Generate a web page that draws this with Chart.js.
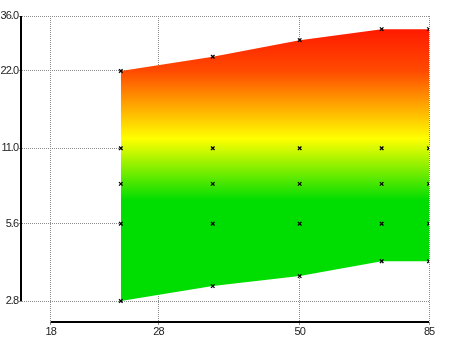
<!DOCTYPE html>
<html>
<head>
<meta charset="utf-8">
<script src="https://cdn.jsdelivr.net/npm/chart.js@4"></script>
<style>
  html, body { margin: 0; padding: 0; background: #fff; }
  #wrap { width: 450px; height: 337px; }
</style>
</head>
<body>
<div id="wrap"><canvas id="band"></canvas></div>
<script>
// data
const xValues = [24, 35, 50, 70, 85];
const upper = [22, 25, 29, 32, 32];
const lower = [2.8, 3.2, 3.5, 4.0, 4.0];
const row11 = [11, 11, 11, 11, 11];
const row8 = [8, 8, 8, 8, 8];
const row56 = [5.6, 5.6, 5.6, 5.6, 5.6];
const xTicks = [18, 28, 50, 85];
const yTicks = [2.8, 5.6, 11, 22, 36];

function pts(ys) {
  return xValues.map(function(x, i) { return { x: x, y: ys[i] }; });
}

// green -> yellow -> red, anchored on y values
const colorStops = [
  [6.9, '#00dd00'],
  [12, '#ffff00'],
  [22, '#ff4a00'],
  [32, '#ff1a00']
];

function bandFill(context) {
  const chart = context.chart;
  if (!chart.chartArea) return null;
  const y = chart.scales.y;
  const p0 = y.getPixelForValue(colorStops[0][0]);
  const p1 = y.getPixelForValue(colorStops[colorStops.length - 1][0]);
  const g = chart.ctx.createLinearGradient(0, p0, 0, p1);
  colorStops.forEach(function(s) {
    g.addColorStop((y.getPixelForValue(s[0]) - p0) / (p1 - p0), s[1]);
  });
  return g;
}

// tighter digits like the original labels
const tightText = {
  id: 'tightText',
  beforeDraw: function(chart) { chart.ctx.letterSpacing = '-1px'; }
};

const axisLines = {
  id: 'axisLines',
  afterDraw: function(chart) {
    const c = chart.ctx, a = chart.chartArea, x = chart.scales.x, y = chart.scales.y;
    c.save();
    c.strokeStyle = '#000';
    c.lineWidth = 2;
    c.beginPath();
    c.moveTo(a.left - 1, y.getPixelForValue(yTicks[yTicks.length - 1]));
    c.lineTo(a.left - 1, y.getPixelForValue(yTicks[0]));
    c.moveTo(x.getPixelForValue(xTicks[0]), a.bottom);
    c.lineTo(x.getPixelForValue(xTicks[xTicks.length - 1]), a.bottom);
    c.stroke();
    c.restore();
  }
};

function markerSet(ys) {
  return {
    data: pts(ys),
    order: 0,
    showLine: false,
    pointStyle: 'crossRot',
    pointRadius: 2.5,
    borderColor: '#000',
    pointBorderWidth: 1.3,
    backgroundColor: '#000'
  };
}

const gridCfg = {
  display: true,
  color: '#8c8c8c',
  lineWidth: 1,
  tickLength: 3,
  tickColor: '#8c8c8c',
  tickBorderDash: []
};
const tickFont = { family: '"Liberation Sans", Arial, sans-serif', size: 11 };

new Chart(document.getElementById('band'), {
  type: 'scatter',
  data: {
    datasets: [
      {
        data: pts(upper),
        order: 5,
        showLine: true,
        borderWidth: 0,
        borderColor: 'rgba(0,0,0,0)',
        backgroundColor: bandFill,
        fill: '+1',
        tension: 0,
        pointStyle: 'crossRot',
        pointRadius: 2.5,
        pointBorderColor: '#000',
        pointBorderWidth: 1.3
      },
      {
        data: pts(lower),
        order: 4,
        showLine: true,
        borderWidth: 0,
        borderColor: 'rgba(0,0,0,0)',
        fill: false,
        tension: 0,
        pointStyle: 'crossRot',
        pointRadius: 2.5,
        pointBorderColor: '#000',
        pointBorderWidth: 1.3
      },
      markerSet(row11),
      markerSet(row8),
      markerSet(row56)
    ]
  },
  options: {
    responsive: true,
    maintainAspectRatio: false,
    animation: false,
    layout: { padding: { top: 16, right: 21, left: 0, bottom: 0 } },
    plugins: { legend: { display: false }, tooltip: { enabled: false } },
    scales: {
      x: {
        type: 'logarithmic',
        min: 16,
        max: 85,
        z: 1,
        border: { display: false, dash: [1, 1] },
        grid: gridCfg,
        afterBuildTicks: function(s) { s.ticks = xTicks.map(function(v) { return { value: v }; }); },
        afterFit: function(s) { s.height = 15; },
        ticks: {
          autoSkip: false,
          maxRotation: 0,
          padding: 0,
          color: '#222',
          font: tickFont,
          callback: function(v) { return String(v); }
        }
      },
      y: {
        type: 'logarithmic',
        min: 2.32,
        max: 36,
        z: 1,
        border: { display: false, dash: [1, 1] },
        grid: gridCfg,
        afterBuildTicks: function(s) { s.ticks = yTicks.map(function(v) { return { value: v }; }); },
        afterFit: function(s) { s.width = 22; },
        ticks: {
          autoSkip: false,
          padding: 1,
          color: '#222',
          font: tickFont,
          callback: function(v) { return Number(v).toFixed(1); }
        }
      }
    }
  },
  plugins: [tightText, axisLines]
});
</script>
</body>
</html>
